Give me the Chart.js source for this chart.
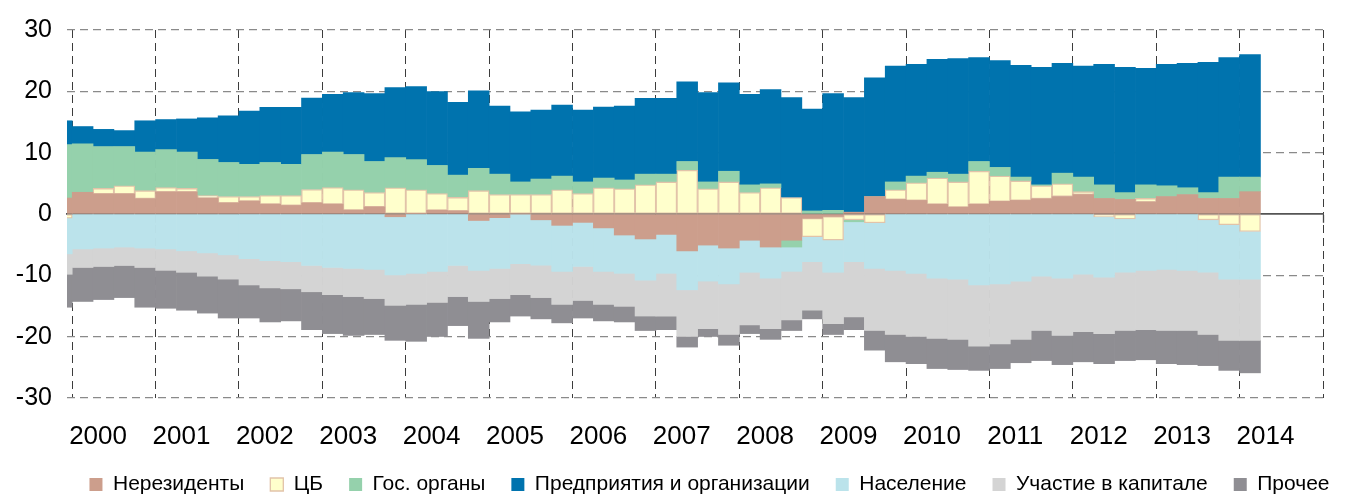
<!DOCTYPE html>
<html lang="ru">
<head>
<meta charset="utf-8">
<title>Структура пассивов по секторам</title>
<script src="https://cdn.jsdelivr.net/npm/chart.js@4.4.1/dist/chart.umd.min.js"></script>
<style>
  html, body { margin: 0; padding: 0; background: #ffffff; }
  #wrap { width: 1365px; height: 496px; }
</style>
</head>
<body>
<div id="wrap"><canvas id="chart" width="1365" height="496"></canvas></div>
<script>
// Quarterly observations, 1999Q4 … 2014Q1
const quarters = [
  '1999Q4',
  '2000Q1','2000Q2','2000Q3','2000Q4',
  '2001Q1','2001Q2','2001Q3','2001Q4',
  '2002Q1','2002Q2','2002Q3','2002Q4',
  '2003Q1','2003Q2','2003Q3','2003Q4',
  '2004Q1','2004Q2','2004Q3','2004Q4',
  '2005Q1','2005Q2','2005Q3','2005Q4',
  '2006Q1','2006Q2','2006Q3','2006Q4',
  '2007Q1','2007Q2','2007Q3','2007Q4',
  '2008Q1','2008Q2','2008Q3','2008Q4',
  '2009Q1','2009Q2','2009Q3','2009Q4',
  '2010Q1','2010Q2','2010Q3','2010Q4',
  '2011Q1','2011Q2','2011Q3','2011Q4',
  '2012Q1','2012Q2','2012Q3','2012Q4',
  '2013Q1','2013Q2','2013Q3','2013Q4',
  '2014Q1'
];

// Year captions under the axis and the year boundaries used for the grid
const yearLabels = ['2000','2001','2002','2003','2004','2005','2006','2007',
                    '2008','2009','2010','2011','2012','2013','2014'];
const gridYears = [2000,2001,2002,2003,2004,2005,2006,2007,
                   2008,2009,2010,2011,2012,2013,2014,2015];
const valueTicks = [-30, -20, -10, 0, 10, 20, 30];

// Sector series
const nonResidents = [2.6, 3.54, 3.28, 3.28, 2.5, 3.6, 3.6, 2.6, 1.8, 2.1,
  1.6, 1.4, 1.8, 1.6, 0.63, 1.16, -0.45, 0.1, 0.6, 0.5,
  -1.06, -0.6, 0, -0.95, -1.85, -1.37, -2.27, -3.43, -4.07, -3.33,
  -6.02, -5.07, -5.55, -4.28, -5.39, -4.28, -0.7, -0.4, 0.3, 2.85,
  2.38, 2.22, 1.58, 1.11, 1.58, 2.06, 2.22, 2.48, 2.85, 3.17,
  2.54, 2.38, 1.95, 2.85, 3.17, 2.54, 2.54, 3.64];

const centralBank = [-0.7, 0, 0.89, 1.32, 1.3, 0.7, 0.57, 0.4, 1.05, 0.75,
  1.4, 1.6, 2.2, 2.7, 3.33, 2.33, 4.28, 3.86, 2.73, 2.2,
  3.8, 3.17, 3.17, 3.17, 3.96, 3.33, 4.28, 4.12, 4.75, 5.23,
  7.13, 4.12, 5.23, 3.49, 4.28, 2.69, -3.0, -3.85, -0.95, -1.43,
  1.58, 2.85, 4.28, 4.12, 5.39, 4.12, 3.17, 2.12, 2.06, 0.47,
  -0.48, -0.8, 0.59, 0, 0, -0.95, -1.74, -2.85];

const government = [8.7, 7.92, 6.83, 6.4, 6.3, 6.2, 5.93, 5.9, 5.55, 5.25,
  5.4, 5.1, 5.7, 5.8, 5.74, 5.07, 4.92, 4.91, 4.59, 3.64,
  3.65, 3.33, 2.06, 2.53, 2.22, 1.9, 1.58, 1.43, 1.75, 1.27,
  1.43, 1.11, 1.74, 1.26, 0.63, -1.11, 0.5, 0.6, -0.32, 0,
  1.27, 1.11, 0.95, 1.27, 1.59, 1.42, 0.63, 0.15, 1.75, 2.38,
  2.21, 1.11, 2.21, 1.75, 1.11, 0.95, 3.48, 2.38];

const corporates = [3.9, 2.8, 2.8, 2.6, 5.1, 4.9, 5.4, 6.8, 7.6, 8.7,
  9.0, 9.3, 9.2, 9.4, 10.1, 11.09, 11.4, 11.89, 12.05, 11.86,
  12.65, 11.1, 11.41, 11.26, 11.57, 11.73, 11.57, 12.05, 12.36, 12.36,
  12.99, 14.57, 14.43, 14.75, 15.39, 16.31, 16.6, 19.05, 18.7, 19.35,
  18.87, 18.22, 18.39, 18.86, 16.94, 17.4, 18.23, 19.15, 17.9, 18.08,
  19.65, 20.41, 19.02, 19.8, 20.28, 21.23, 19.48, 19.98];

const households = [-5.8, -5.7, -5.55, -5.39, -5.55, -5.7, -6.0, -6.34, -6.66, -7.29,
  -7.6, -7.77, -8.4, -8.72, -8.87, -9.03, -9.48, -9.67, -9.35, -8.4,
  -8.13, -8.27, -8.08, -7.4, -7.5, -7.19, -7.08, -6.24, -6.71, -6.34,
  -6.34, -5.87, -5.85, -5.22, -5.07, -3.96, -4.07, -5.25, -6.5, -7.44,
  -9.19, -9.67, -10.46, -10.62, -11.57, -11.4, -10.94, -10.14, -10.46, -9.83,
  -9.82, -8.7, -9.19, -9.03, -9.19, -8.55, -8.88, -7.77];

const equity = [-3.33, -3.02, -3.01, -3.01, -3.17, -3.49, -3.51, -3.8, -3.96, -4.28,
  -4.45, -4.43, -4.28, -4.43, -4.6, -4.76, -4.97, -5.07, -5.07, -5.07,
  -5.07, -4.92, -5.07, -5.28, -5.39, -5.54, -5.39, -5.39, -5.86, -6.97,
  -7.61, -7.76, -8.25, -8.57, -8.24, -7.92, -7.92, -8.4, -9.03, -10.13,
  -10.46, -10.3, -9.82, -9.82, -9.98, -9.8, -9.5, -8.86, -9.34, -9.35,
  -9.2, -9.5, -9.67, -9.97, -9.81, -10.15, -9.98, -9.98];

const other = [-5.37, -5.54, -5.39, -5.23, -6.48, -6.18, -6.18, -6.02, -6.34, -5.39,
  -5.55, -5.23, -6.18, -6.35, -6.33, -5.86, -5.7, -6.02, -5.55, -4.73,
  -6.02, -3.81, -3.49, -3.47, -3.01, -2.86, -2.69, -2.54, -2.36, -2.22,
  -1.73, -1.27, -1.75, -1.43, -1.74, -1.73, -1.41, -1.75, -2.06, -3.2,
  -4.45, -4.43, -4.92, -4.92, -3.95, -4.0, -3.81, -4.9, -4.76, -4.92,
  -4.9, -4.9, -4.91, -5.4, -5.56, -5.07, -4.9, -5.3];

// ---- presentation ----
const FONT = "'Liberation Sans', Arial, Helvetica, sans-serif";
Chart.defaults.font.family = FONT;
Chart.defaults.color = '#000000';

const X_MIN = 1999.9375;   // plot opens with a sliver of the 1999Q4 bar
const X_MAX = 2015;
const LABEL_SHIFT = 0.31;  // year caption sits a little into its year

// centre of a quarter on a continuous year axis
function quarterMid(label) {
  const year = Number(label.slice(0, 4));
  const q = Number(label.slice(5));
  return year + (q - 1) / 4 + 0.125;
}

const seriesDefs = [
  { label: 'Нерезиденты',               values: nonResidents, fill: '#CC9E8C' },
  { label: 'ЦБ',                        values: centralBank,  fill: '#FFFFCC', stroke: '#E2C3A9', width: 1.3 },
  { label: 'Гос. органы',               values: government,   fill: '#95D1AC' },
  { label: 'Предприятия и организации', values: corporates,   fill: '#0073AE' },
  { label: 'Население',                 values: households,   fill: '#BBE3EB' },
  { label: 'Участие в капитале',        values: equity,       fill: '#D4D4D4' },
  { label: 'Прочее',                    values: other,        fill: '#8F8E93' }
];

const datasets = seriesDefs.map(s => ({
  label: s.label,
  data: quarters.map((q, i) => ({ x: quarterMid(q), y: s.values[i] })),
  backgroundColor: s.fill,
  borderColor: s.stroke || s.fill,
  borderWidth: s.width || 0,
  borderSkipped: false,
  barPercentage: 1,
  categoryPercentage: 1,
  clip: 0
}));

new Chart(document.getElementById('chart'), {
  type: 'bar',
  data: { datasets },
  options: {
    responsive: false,
    animation: false,
    devicePixelRatio: 1,
    events: [],
    // asymmetric outer margins keep the legend row centred under the plot
    layout: { padding: { left: 12, right: -42, top: 20, bottom: 0 } },
    plugins: {
      tooltip: { enabled: false },
      legend: {
        position: 'bottom',
        maxHeight: 48,
        labels: {
          boxWidth: 13,
          boxHeight: 13,
          padding: 26,
          color: '#000000',
          font: { size: 21, family: FONT }
        }
      }
    },
    scales: {
      // year captions
      x: {
        type: 'linear',
        min: X_MIN,
        max: X_MAX,
        offset: false,
        stacked: true,
        position: 'bottom',
        weight: 1,
        afterBuildTicks: s => { s.ticks = yearLabels.map(y => ({ value: Number(y) + LABEL_SHIFT })); },
        afterFit: s => { s.height = 50; },
        grid: { display: false, drawTicks: false, offset: false },
        border: { display: false },
        ticks: {
          callback: (v, i) => yearLabels[i],
          autoSkip: false,
          maxRotation: 0,
          padding: 23,
          color: '#000000',
          font: { size: 26, family: FONT }
        }
      },
      // dashed year boundaries behind the bars
      xGrid: {
        type: 'linear',
        min: X_MIN,
        max: X_MAX,
        offset: false,
        position: 'bottom',
        weight: 0,
        afterBuildTicks: s => { s.ticks = gridYears.map(v => ({ value: v })); },
        ticks: { display: false },
        grid: { color: '#3c3c3c', lineWidth: 1, drawTicks: false, offset: false },
        border: { display: false, dash: [8, 5] }
      },
      // solid zero line with year tick marks, drawn over the bars
      xZero: {
        type: 'linear',
        axis: 'x',
        min: X_MIN,
        max: X_MAX,
        offset: false,
        position: { y: 0 },
        z: 1,
        afterBuildTicks: s => { s.ticks = gridYears.map(v => ({ value: v })); },
        ticks: { display: false },
        grid: {
          offset: false,
          drawOnChartArea: false,
          drawTicks: true,
          tickLength: 8,
          tickColor: '#444444',
          tickWidth: 1.3
        },
        border: { display: true, color: '#555555', width: 1.8 }
      },
      y: {
        type: 'linear',
        min: -30,
        max: 30,
        stacked: true,
        afterBuildTicks: s => { s.ticks = valueTicks.map(v => ({ value: v })); },
        afterFit: s => { s.width = 55; },
        ticks: { padding: 15, color: '#000000', font: { size: 25, family: FONT } },
        grid: {
          color: c => (c.tick && c.tick.value === 0) ? 'rgba(0,0,0,0)' : '#8a8a8a',
          lineWidth: 1.3,
          drawTicks: false
        },
        border: { display: false, dash: [8, 5] }
      },
      // keeps a blank margin right of the plot
      yRight: {
        type: 'linear',
        position: 'right',
        afterFit: s => { s.width = 84; },
        grid: { display: false, drawTicks: false },
        ticks: { display: false },
        border: { display: false }
      }
    }
  }
});
</script>
</body>
</html>
